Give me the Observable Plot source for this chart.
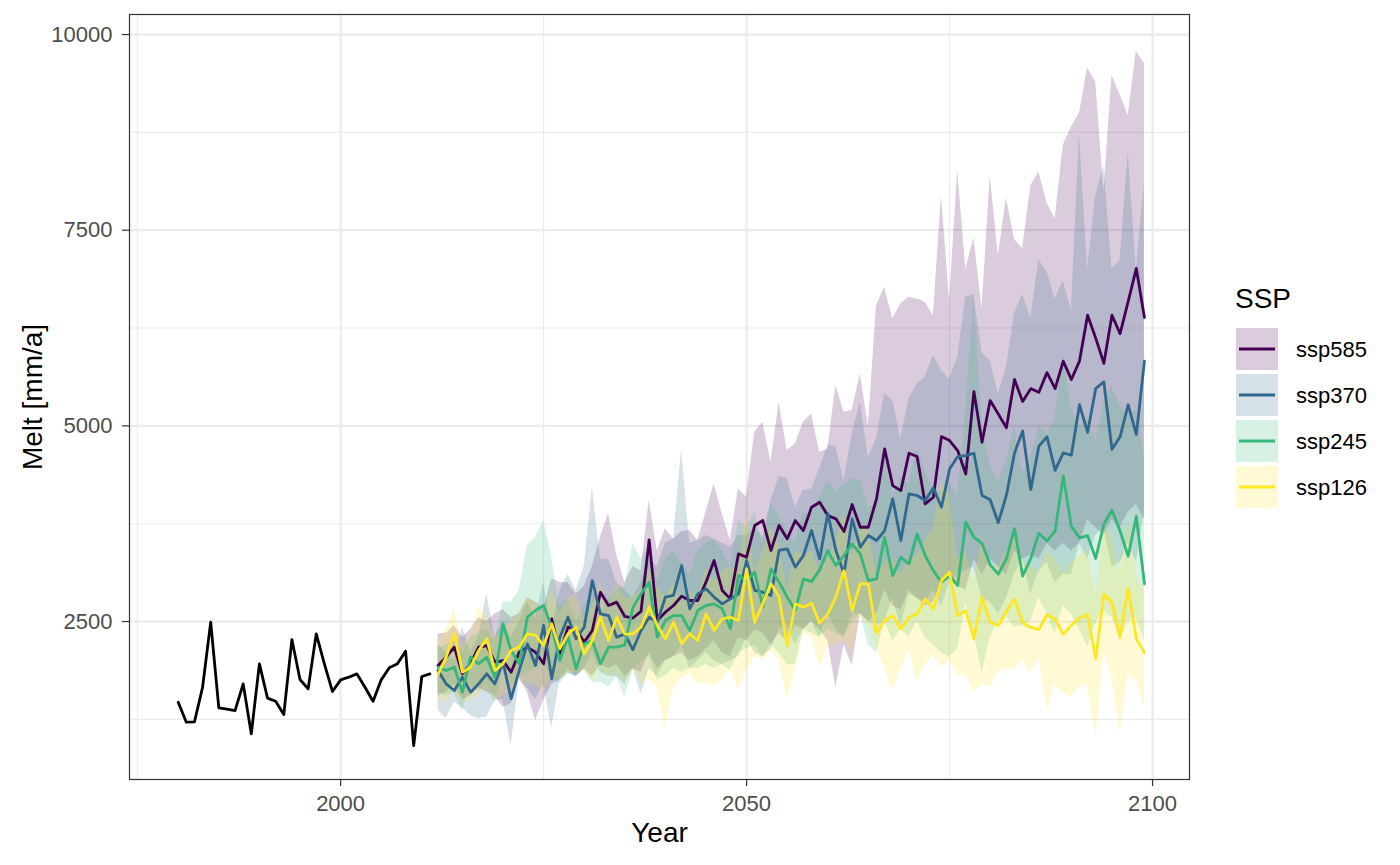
<!DOCTYPE html>
<html><head><meta charset="utf-8">
<script src="https://cdn.jsdelivr.net/npm/d3@7"></script>
<script src="https://cdn.jsdelivr.net/npm/@observablehq/plot@0.6"></script>
<style>
html,body{margin:0;padding:0;background:#fff;}
#wrap{position:relative;width:1400px;height:865px;font-family:"Liberation Sans",Arial,sans-serif;}
#wrap svg{display:block;}
</style></head><body><div id="wrap"></div>
<script>
// ---------- data ----------
const histYears = d3.range(1980, 2012);
const histMelt = [1469, 1214, 1219, 1661, 2492, 1398, 1380, 1363, 1704, 1066, 1960, 1521, 1482, 1312, 2270, 1760, 1640, 2343, 1960, 1606, 1755, 1789, 1832, 1661, 1482, 1755, 1909, 1960, 2121, 916, 1798, 1832];

const projYears = d3.range(2012, 2100);
const ssps = ["ssp585", "ssp370", "ssp245", "ssp126"];
const sspColors = ["#440154", "#31688E", "#35B779", "#FDE725"];

const ssp585Mean = [1939, 2045, 2173, 1832, 1960, 2173, 2194, 1981,
  2002, 1853, 2109, 2173, 2109, 1960, 2535, 2088, 2428, 2407,
  2237, 2386, 2875, 2705, 2748, 2565, 2545, 2630, 3544, 2513,
  2620, 2705, 2824, 2769, 2769, 3003, 3280, 2897, 2790, 3365,
  3323, 3727, 3791, 3408, 3727, 3557, 3791, 3663, 3961, 4025,
  3854, 3812, 3650, 3995, 3705, 3705, 4067, 4706, 4237, 4173,
  4651, 4608, 4003, 4088, 4863, 4812, 4685, 4386, 5438, 4791,
  5323, 5153, 4977, 5593, 5311, 5476, 5429, 5681, 5476, 5828,
  5593, 5828, 6414, 6121, 5798, 6414, 6179, 6590, 7012, 6385];
const ssp585Lo = [1550, 1600, 1700, 1500, 1550, 1650, 1600, 1550,
  1406, 1450, 1800, 1598, 1236, 1492, 1700, 1750, 1850, 1800,
  1900, 1800, 1950, 1900, 1950, 1800, 1900, 1850, 2100, 1900,
  2000, 2050, 2100, 2000, 2050, 2150, 2250, 2100, 2050, 2300,
  2250, 2400, 2350, 2200, 2350, 2250, 2450, 2400, 2500, 2400,
  2250, 1661, 2200, 1938, 2600, 2500, 2600, 2900, 2700, 2650,
  2900, 2800, 2700, 2750, 3000, 3100, 2950, 2900, 3300, 3100,
  3300, 3200, 3100, 3400, 3300, 3350, 3300, 3500, 3400, 3500,
  3400, 3500, 3800, 3700, 3600, 3800, 3700, 3900, 4000, 3800];
const ssp585Hi = [2343, 2350, 2450, 2300, 2400, 2550, 2500, 2599,
  2650, 2550, 2600, 2800, 2750, 2650, 3050, 3000, 3000, 2850,
  2950, 3200, 3578, 3876, 3350, 3000, 3200, 3150, 4046, 3400,
  3685, 3550, 3650, 3663, 3536, 3900, 4259, 3876, 3535, 4195,
  4089, 4919, 5047, 4536, 5303, 4685, 4770, 5047, 5154, 4664,
  4700, 5516, 5175, 5196, 5665, 5004, 6537, 6771, 6367, 6559,
  6644, 6622, 6580, 6410, 7943, 6600, 8263, 7000, 7400, 6500,
  8203, 7177, 7910, 7382, 7265, 8068, 8244, 7851, 7646, 8584,
  8819, 8995, 9570, 9394, 8000, 9476, 9230, 8966, 9787, 9629];

const ssp370Mean = [1875, 1704, 1619, 1789, 1598, 1704, 1832, 1704,
  1981, 1513, 1875, 2215, 1939, 2450, 1768, 2300, 2556, 2279,
  2428, 3024, 2599, 2577, 2300, 2343, 2139, 2386, 2556, 2492,
  2812, 2833, 3216, 2663, 2854, 2918, 2812, 2726, 2790, 2854,
  3280, 2897, 2875, 2833, 3408, 3429, 3195, 3344, 3663, 3300,
  3880, 3407, 3109, 3812, 3450, 3599, 3535, 3662, 4067, 3535,
  4131, 4110, 4046, 4208, 3961, 4450, 4608, 4621, 4650, 4110,
  4056, 3763, 4115, 4654, 4936, 4185, 4742, 4860, 4431, 4654,
  4625, 5270, 4918, 5476, 5564, 4701, 4860, 5270, 4889, 5828];
const ssp370Lo = [1364, 1257, 1470, 1400, 1300, 1257, 1279, 1492,
  1500, 917, 1747, 1650, 1500, 1700, 1129, 1750, 1900, 1800,
  1900, 2100, 1850, 1800, 1800, 1700, 1900, 1577, 1900, 1800,
  2000, 2050, 2200, 1900, 2000, 2100, 2000, 1950, 2000, 2050,
  2300, 2100, 2050, 2150, 2400, 2450, 2200, 2400, 2500, 2300,
  2600, 2400, 2300, 2600, 2600, 2500, 2450, 2500, 2800, 2450,
  2850, 2800, 2750, 2900, 2700, 3000, 3100, 3150, 3200, 2800,
  2750, 2600, 2800, 3100, 3300, 2850, 3150, 3250, 3000, 3100,
  3100, 3500, 3300, 3600, 3700, 3200, 3250, 3500, 3250, 3900];
const ssp370Hi = [2200, 2100, 2000, 2428, 2100, 2300, 2854, 2300,
  2500, 2300, 2500, 2750, 2550, 3000, 2400, 2900, 3100, 2900,
  3200, 4217, 3300, 3300, 3000, 2900, 2800, 3000, 3300, 3200,
  3500, 3557, 4707, 3500, 3536, 3600, 3550, 3500, 3450, 3600,
  3599, 3706, 3578, 4046, 4353, 4323, 3961, 4174, 4195, 4450,
  4749, 4738, 4300, 4900, 5300, 4600, 4834, 5409, 5324, 4834,
  5345, 5536, 5622, 5898, 5707, 5600, 5877, 6644, 6686, 5930,
  5840, 5400, 5740, 6443, 6678, 6385, 7118, 6971, 6619, 6854,
  6473, 8731, 7001, 7939, 8320, 7001, 7118, 8497, 7001, 8115];

const ssp245Mean = [1917, 1875, 1917, 1598, 2045, 1960, 2045, 1789,
  2471, 2130, 1960, 2556, 2641, 2705, 2428, 2002, 2300, 1896,
  2215, 2258, 1960, 2173, 2173, 2200, 2680, 2854, 3003, 2300,
  2513, 2577, 2577, 2386, 2641, 2705, 2726, 2663, 2407, 3088,
  3024, 3131, 2684, 3174, 3003, 2812, 2641, 3046, 3010, 3160,
  3407, 3215, 3343, 3492, 3364, 3024, 3045, 3577, 3087, 3322,
  3237, 3620, 3343, 3151, 3002, 3087, 2960, 3769, 3577, 3500,
  3225, 3105, 3305, 3686, 3082, 3305, 3628, 3528, 3657, 4361,
  3716, 3569, 3598, 3305, 3745, 3921, 3657, 3334, 3845, 2983];
const ssp245Lo = [1600, 1550, 1600, 1350, 1700, 1600, 1700, 1450,
  1900, 1700, 1800, 1850, 1900, 1950, 1800, 1704, 1832, 1790,
  1875, 1726, 1726, 1662, 1790, 1534, 1875, 2000, 2050, 1750,
  1800, 1900, 1850, 1900, 1900, 1950, 1900, 1950, 1875, 2100,
  2150, 2200, 2050, 2200, 2100, 1950, 1950, 2400, 2350, 2300,
  2400, 2350, 2300, 2500, 2600, 2200, 2100, 2500, 2250, 2400,
  2300, 2500, 2300, 2200, 2100, 2044, 2150, 2726, 2343, 1850,
  2300, 2513, 2555, 2428, 2450, 2500, 2811, 2600, 2343, 2700,
  2598, 2400, 2172, 2470, 2641, 2550, 2257, 2500, 2550, 2257];
const ssp245Hi = [2150, 2200, 2250, 2100, 2300, 2350, 2400, 2250,
  2750, 2748, 2900, 3472, 3578, 3791, 3323, 2700, 2800, 2500,
  2700, 2900, 2600, 2800, 2900, 2950, 3493, 3300, 3450, 3000,
  3300, 3400, 3250, 3100, 3400, 3500, 3550, 3400, 3200, 3800,
  3700, 3900, 3500, 4000, 3850, 3650, 3500, 3900, 3850, 4100,
  4300, 4150, 4250, 4323, 4300, 3950, 4000, 4600, 4100, 4350,
  4250, 4700, 4400, 4200, 4150, 4250, 4100, 5200, 6650, 5000,
  4500, 4300, 4550, 5000, 4400, 4600, 5000, 4900, 5100, 5900,
  5200, 5000, 5100, 4800, 5300, 5500, 5250, 5150, 5200, 4600];

const ssp126Mean = [1824, 2045, 2352, 1853, 1917, 2130, 2279, 1875,
  1960, 2130, 2173, 2343, 2322, 2194, 2471, 2151, 2343, 2428,
  2088, 2258, 2556, 2258, 2556, 2340, 2343, 2428, 2684, 2449,
  2279, 2492, 2215, 2343, 2258, 2599, 2386, 2535, 2556, 2513,
  3174, 2492, 2726, 2982, 2812, 2194, 2726, 2684, 2735, 2480,
  2598, 2811, 3151, 2640, 2981, 2981, 2351, 2513, 2576, 2406,
  2555, 2598, 2790, 2662, 3024, 3130, 2576, 2640, 2278, 2809,
  2488, 2452, 2631, 2789, 2484, 2425, 2396, 2590, 2531, 2337,
  2455, 2543, 2590, 2026, 2848, 2748, 2296, 2924, 2279, 2103];
const ssp126Lo = [1500, 1450, 1650, 1450, 1500, 1550, 1650, 1500,
  1550, 1600, 1750, 1700, 1700, 1600, 1800, 1750, 1850, 1850,
  1875, 1750, 1900, 1800, 1850, 1700, 1900, 1700, 1747, 1650,
  1129, 1662, 1768, 1832, 1704, 1726, 1683, 1747, 1875, 1619,
  1875, 2045, 2003, 2130, 2003, 1513, 1875, 2364, 2300, 1895,
  2172, 2200, 2257, 2100, 2577, 2450, 2172, 1900, 1618, 1900,
  2130, 1725, 1950, 2066, 1917, 2000, 1810, 1810, 1597, 1700,
  1661, 1853, 1895, 1895, 2002, 1831, 2044, 1363, 1695, 1576,
  1533, 1661, 1695, 1022, 2108, 1746, 1065, 1831, 1746, 1405];
const ssp126Hi = [2250, 2400, 2662, 2200, 2350, 2662, 2600, 2300,
  2350, 2500, 2600, 2800, 2750, 2600, 2900, 2600, 2800, 2850,
  2500, 2700, 3000, 2700, 3000, 2800, 2800, 2900, 3200, 2950,
  2800, 3000, 2750, 2900, 2800, 3200, 3000, 3150, 3200, 3150,
  3900, 3150, 3400, 3700, 3500, 2900, 3400, 3350, 3400, 3150,
  3300, 3500, 3900, 3350, 3700, 3700, 3050, 3250, 3300, 3100,
  3300, 3350, 3550, 3700, 4300, 4100, 3300, 3400, 3000, 3600,
  3250, 3200, 3400, 3600, 3250, 3200, 3150, 3400, 3300, 3100,
  3250, 3350, 3400, 2800, 3700, 3600, 3100, 3800, 3100, 2900];

const xMajor = [2000, 2050, 2100];
const xMinor = [1975, 2025, 2075];
const yMajor = [2500, 5000, 7500, 10000];
const yMinor = [1250, 3750, 6250, 8750];

// ---------- tables ----------
const hist = histYears.map((year, i) => ({year, melt: histMelt[i]}));
const seriesBySsp = {
  ssp585: [ssp585Mean, ssp585Lo, ssp585Hi],
  ssp370: [ssp370Mean, ssp370Lo, ssp370Hi],
  ssp245: [ssp245Mean, ssp245Lo, ssp245Hi],
  ssp126: [ssp126Mean, ssp126Lo, ssp126Hi]
};
const proj = ssps.flatMap(s => projYears.map((year, i) => ({
  ssp: s, year,
  mean: seriesBySsp[s][0][i], lo: seriesBySsp[s][1][i], hi: seriesBySsp[s][2][i]
})));

const font = '"Liberation Sans", Arial, sans-serif';
const gridStyle = w => ({stroke: "#EBEBEB", strokeOpacity: 1, strokeWidth: w});

const chart = Plot.plot({
  width: 1400, height: 865,
  marginLeft: 129, marginRight: 211, marginTop: 14, marginBottom: 86,
  style: {fontFamily: font, background: "#fff", overflow: "visible"},
  x: {domain: [1974.0, 2104.55]},
  y: {domain: [482, 10256]},
  color: {domain: ssps, range: sspColors},
  marks: [
    Plot.gridX(xMinor, gridStyle(1.1)),
    Plot.gridY(yMinor, gridStyle(1.1)),
    Plot.gridX(xMajor, gridStyle(2.2)),
    Plot.gridY(yMajor, gridStyle(2.2)),
    Plot.areaY(proj, {x: "year", y1: "lo", y2: "hi", z: "ssp", fill: "ssp", fillOpacity: 0.2}),
    Plot.line(hist, {x: "year", y: "melt", stroke: "black", strokeWidth: 2.8}),
    Plot.line(proj, {x: "year", y: "mean", z: "ssp", stroke: "ssp", strokeWidth: 2.8}),
    Plot.frame({stroke: "#333333", strokeWidth: 1.2}),
    Plot.axisX(xMajor, {tickSize: 7, tickPadding: 9, tickFormat: "d", fontSize: 22, fill: "#4D4D4D", stroke: "#333333", strokeWidth: 1.2, label: null}),
    Plot.axisY(yMajor, {tickSize: 7, tickPadding: 10, tickFormat: "d", fontSize: 22, fill: "#4D4D4D", stroke: "#333333", strokeWidth: 1.2, label: null}),
    Plot.text(["Year"], {text: d => d, frameAnchor: "bottom", lineAnchor: "middle", textAnchor: "middle", dy: 54, fontSize: 28, fill: "black"}),
    Plot.text(["Melt [mm/a]"], {text: d => d, frameAnchor: "left", lineAnchor: "middle", textAnchor: "middle", dx: -96, rotate: -90, fontSize: 28, fill: "black"})
  ]
});
const wrap = document.getElementById("wrap");
wrap.appendChild(chart);

// ---------- legend ----------
const leg = d3.select(wrap).append("svg")
  .attr("width", 210).attr("height", 260)
  .style("position", "absolute").style("left", "1190px").style("top", "270px")
  .style("font-family", font);
leg.append("text").attr("x", 45).attr("y", 38).attr("font-size", 28).attr("fill", "black").text("SSP");
ssps.forEach((s, i) => {
  const y0 = 58 + i * 46;
  leg.append("rect").attr("x", 46).attr("y", y0).attr("width", 42).attr("height", 42)
    .attr("fill", sspColors[i]).attr("fill-opacity", 0.2);
  leg.append("line").attr("x1", 49).attr("x2", 85).attr("y1", y0 + 21).attr("y2", y0 + 21)
    .attr("stroke", sspColors[i]).attr("stroke-width", 2.8);
  leg.append("text").attr("x", 106).attr("y", y0 + 21).attr("dominant-baseline", "central")
    .attr("font-size", 22).attr("fill", "black").text(s);
});
</script></body></html>
